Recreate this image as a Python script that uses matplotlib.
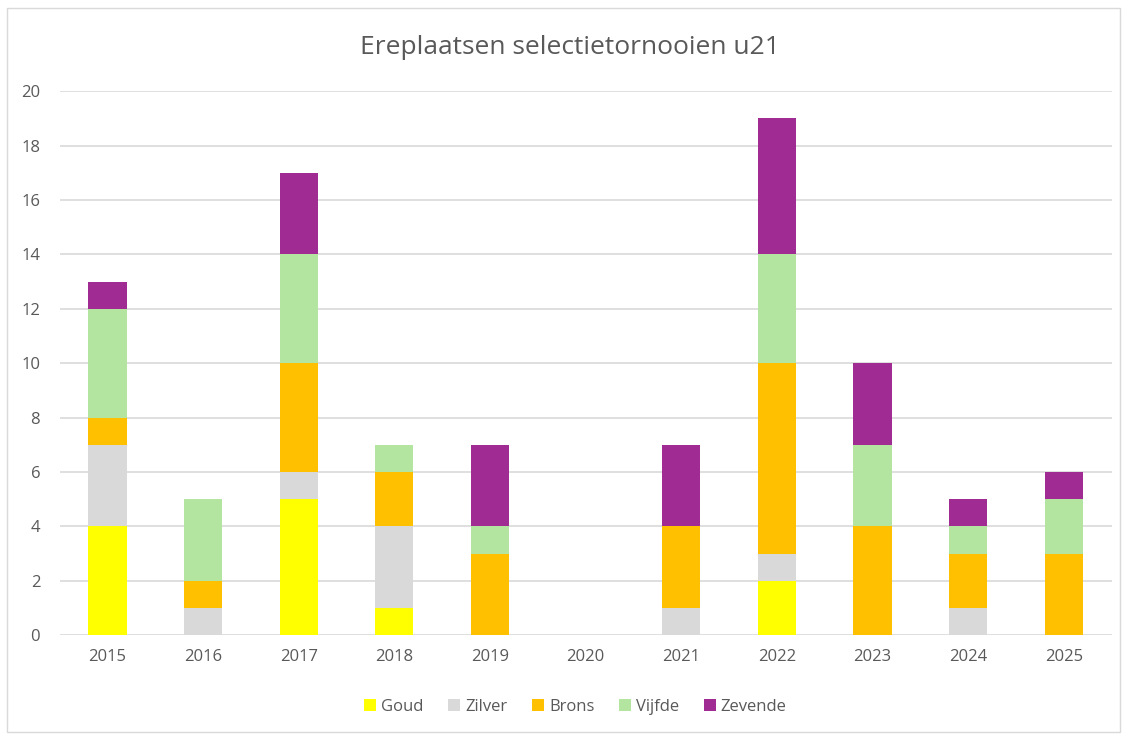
import matplotlib.pyplot as plt
import numpy as np

years = ['2015', '2016', '2017', '2018', '2019', '2020', '2021', '2022', '2023', '2024', '2025']
goud = [4, 0, 5, 1, 0, 0, 0, 2, 0, 0, 0]
zilver = [3, 1, 1, 3, 0, 0, 1, 1, 0, 1, 0]
brons = [1, 1, 4, 2, 3, 0, 3, 7, 4, 2, 3]
vijfde = [4, 3, 4, 1, 1, 0, 0, 4, 3, 1, 2]
zevende = [1, 0, 3, 0, 3, 0, 3, 5, 3, 1, 1]

series = [('Goud', goud, '#FFFF00'),
          ('Zilver', zilver, '#D9D9D9'),
          ('Brons', brons, '#FFC000'),
          ('Vijfde', vijfde, '#B3E5A1'),
          ('Zevende', zevende, '#A02B93')]

plt.rcParams['font.family'] = ['Open Sans', 'DejaVu Sans']

fig = plt.figure(figsize=(11.24, 7.36), dpi=100)
ax = fig.add_axes([0.053, 0.137, 0.936, 0.739])

x = np.arange(len(years))
bottom = np.zeros(len(years))
for name, vals, col in series:
    ax.bar(x, vals, 0.4, bottom=bottom, color=col, label=name, zorder=3)
    bottom += np.array(vals)

ax.set_ylim(0, 20)
ax.set_xlim(-0.5, len(years) - 0.5)
ax.set_yticks(range(0, 21, 2))
ax.set_xticks(x)
ax.set_xticklabels(years)
ax.grid(axis='y', color='#D9D9D9', linewidth=1.2, zorder=0)
for s in ax.spines.values():
    s.set_visible(False)
ax.tick_params(length=0, colors='#595959', labelsize=12)
ax.tick_params(axis='x', pad=10)
ax.tick_params(axis='y', pad=14)

fig.text(0.507, 0.936, 'Ereplaatsen selectietornooien u21', ha='center', va='center',
         fontsize=19, color='#595959')

fig.legend(loc='center', bbox_to_anchor=(0.512, 0.04), ncol=5, frameon=False,
           fontsize=12, handlelength=0.7, handleheight=0.7, handletextpad=0.3,
           columnspacing=1.5, labelcolor='#595959')

# figure border
fig.add_artist(plt.Rectangle((0.006, 0.005), 0.99, 0.984, transform=fig.transFigure,
                             fill=False, edgecolor='#D9D9D9', linewidth=1))

fig.savefig('out.png', dpi=100)
